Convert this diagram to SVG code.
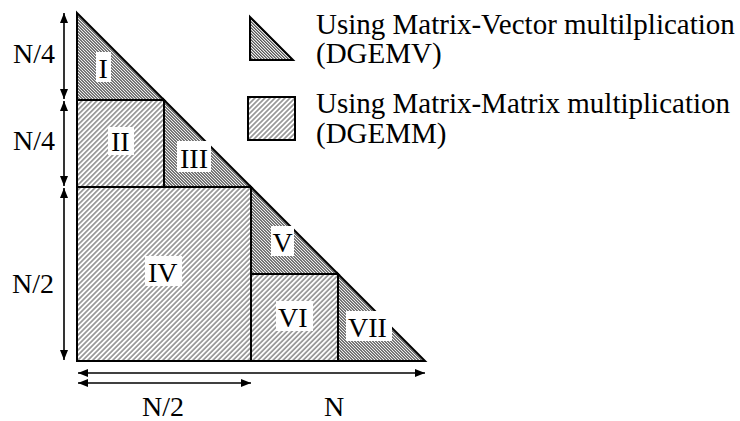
<svg xmlns="http://www.w3.org/2000/svg" width="740" height="421" viewBox="0 0 740 421">
<defs>
<pattern id="mv" patternUnits="userSpaceOnUse" width="10" height="2.12" patternTransform="rotate(45)">
<rect width="10" height="2.12" fill="#fff"/>
<line x1="0" y1="1.06" x2="10" y2="1.06" stroke="#000" stroke-width="0.8"/>
</pattern>
<pattern id="mm" patternUnits="userSpaceOnUse" width="10" height="3.54" patternTransform="rotate(-45)">
<rect width="10" height="3.54" fill="#fff"/>
<line x1="0" y1="1.77" x2="10" y2="1.77" stroke="#000" stroke-width="0.75"/>
</pattern>
<marker id="ah" viewBox="0 0 10 8" refX="10" refY="4" markerWidth="10" markerHeight="8" markerUnits="userSpaceOnUse" orient="auto-start-reverse">
<path d="M0,0 L10,4 L0,8 Z" fill="#000"/>
</marker>
</defs>
<style>
.mv{fill:url(#mv);stroke:#000;stroke-width:2;stroke-linejoin:miter}
.mm{fill:url(#mm);stroke:#000;stroke-width:2}
text{font-family:'Liberation Serif','Times New Roman',Times,serif;font-size:28px;fill:#000}
.lg{font-size:29px}
.lb{fill:#fff}
.ar{stroke:#000;stroke-width:1.6;fill:none;marker-start:url(#ah);marker-end:url(#ah)}
</style>
<rect width="740" height="421" fill="#fff"/>

<g id="region-I">
<path class="mv" d="M77,13 L164,100 L77,100 Z"/>
<rect class="lb" x="96" y="52" width="15" height="30"/>
<text x="98.5" y="78">I</text>
</g>
<g id="region-II">
<rect class="mm" x="77" y="100" width="87" height="87"/>
<rect class="lb" x="108" y="127" width="26" height="28"/>
<text x="111" y="151">II</text>
</g>
<g id="region-III">
<path class="mv" d="M164,100 L251,187 L164,187 Z"/>
<rect class="lb" x="177" y="141" width="34" height="31"/>
<text x="180" y="168">III</text>
</g>
<g id="region-IV">
<rect class="mm" x="77" y="187" width="174" height="174"/>
<rect class="lb" x="145" y="256" width="37" height="30"/>
<text x="148" y="282">IV</text>
</g>
<g id="region-V">
<path class="mv" d="M251,187 L338,274 L251,274 Z"/>
<rect class="lb" x="271" y="226" width="23" height="30"/>
<text x="272.5" y="252">V</text>
</g>
<g id="region-VI">
<rect class="mm" x="251" y="274" width="87" height="87"/>
<rect class="lb" x="276" y="301" width="37" height="30"/>
<text x="278" y="327">VI</text>
</g>
<g id="region-VII">
<path class="mv" d="M338,274 L425,361 L338,361 Z"/>
<rect class="lb" x="346" y="311" width="46" height="30"/>
<text x="348" y="337">VII</text>
</g>

<g id="connectors">
<line class="ar" x1="64" y1="13" x2="64" y2="99"/>
<line class="ar" x1="64" y1="101" x2="64" y2="186"/>
<line class="ar" x1="64" y1="188" x2="64" y2="360"/>
<line class="ar" x1="78" y1="373" x2="425" y2="373"/>
<line class="ar" x1="78" y1="383" x2="251" y2="383"/>
</g>

<g id="dim-labels">
<text x="13" y="63">N/4</text>
<text x="13" y="150">N/4</text>
<text x="12" y="293">N/2</text>
<text x="142" y="416">N/2</text>
<text x="324" y="416">N</text>
</g>

<g id="legend-dgemv">
<path class="mv" d="M250,17 L293,60 L250,60 Z"/>
<text class="lg" x="316" y="34">Using Matrix-Vector multilplication</text>
<text class="lg" x="316" y="63">(DGEMV)</text>
</g>
<g id="legend-dgemm">
<rect class="mm" x="248" y="97" width="47" height="43"/>
<text class="lg" x="316" y="113">Using Matrix-Matrix multiplication</text>
<text class="lg" x="316" y="143">(DGEMM)</text>
</g>
</svg>
